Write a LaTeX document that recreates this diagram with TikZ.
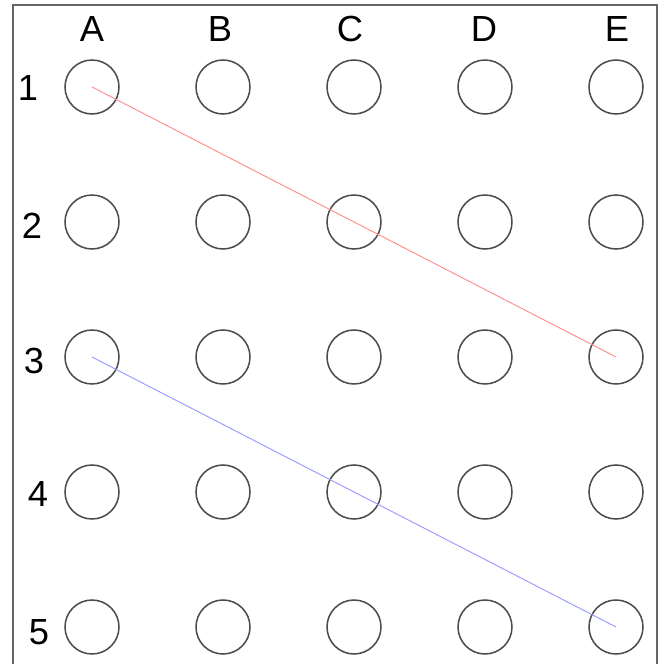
\documentclass[tikz,border=0pt]{standalone}
\usepackage{fontspec}
\setmainfont{Liberation Sans}
\usepackage{tikz}
\usetikzlibrary{positioning}
\tikzset{
    % Grid holes
    hole/.style={
        draw=black!70,
        circle,
        line width=1.3pt,
        inner sep=0pt,
        minimum size=1.62cm
    },
    % Column and row labels
    gridlabel/.style={
        font=\fontsize{31}{36}\selectfont,
        inner sep=0pt
    },
    % Outer frame
    frameline/.style={
        draw=black!60,
        line width=1.2pt
    },
    % Connecting lines
    redline/.style={
        draw=red!45,
        line width=0.8pt
    },
    blueline/.style={
        draw=blue!40,
        line width=0.8pt
    }
}

\begin{document}
\begin{tikzpicture}

\useasboundingbox (0,0) rectangle (19.89,19.92);
\clip (0,0) rectangle (19.89,19.92);

% ==================== FRAME ====================
\draw[frameline] (0.39,-0.3) -- (0.39,19.77) -- (19.71,19.77) -- (19.71,-0.3);

% ==================== COLUMN LABELS ====================
\node[gridlabel] (colA) at (2.76, 19.05) {A};
\node[gridlabel] (colB) at (6.60, 19.05) {B};
\node[gridlabel] (colC) at (10.50, 19.05) {C};
\node[gridlabel] (colD) at (14.52, 19.05) {D};
\node[gridlabel] (colE) at (18.51, 19.05) {E};

% ==================== ROW LABELS ====================
\node[gridlabel] (row1) at (0.84, 17.28) {1};
\node[gridlabel] (row2) at (0.96, 13.14) {2};
\node[gridlabel] (row3) at (1.02, 9.09) {3};
\node[gridlabel] (row4) at (1.14, 5.10) {4};
\node[gridlabel] (row5) at (1.17, 0.96) {5};

% ==================== HOLES ====================
% Row 1
\node[hole] (A1) at (2.76, 17.31) {};
\node[hole] (B1) at (6.69, 17.31) {};
\node[hole] (C1) at (10.62, 17.31) {};
\node[hole] (D1) at (14.55, 17.31) {};
\node[hole] (E1) at (18.48, 17.31) {};
% Row 2
\node[hole] (A2) at (2.76, 13.26) {};
\node[hole] (B2) at (6.69, 13.26) {};
\node[hole] (C2) at (10.62, 13.26) {};
\node[hole] (D2) at (14.55, 13.26) {};
\node[hole] (E2) at (18.48, 13.26) {};
% Row 3
\node[hole] (A3) at (2.76, 9.21) {};
\node[hole] (B3) at (6.69, 9.21) {};
\node[hole] (C3) at (10.62, 9.21) {};
\node[hole] (D3) at (14.55, 9.21) {};
\node[hole] (E3) at (18.48, 9.21) {};
% Row 4
\node[hole] (A4) at (2.76, 5.16) {};
\node[hole] (B4) at (6.69, 5.16) {};
\node[hole] (C4) at (10.62, 5.16) {};
\node[hole] (D4) at (14.55, 5.16) {};
\node[hole] (E4) at (18.48, 5.16) {};
% Row 5
\node[hole] (A5) at (2.76, 1.11) {};
\node[hole] (B5) at (6.69, 1.11) {};
\node[hole] (C5) at (10.62, 1.11) {};
\node[hole] (D5) at (14.55, 1.11) {};
\node[hole] (E5) at (18.48, 1.11) {};

% ==================== LINES ====================
\draw[redline] (A1.center) -- (E3.center);
\draw[blueline] (A3.center) -- (E5.center);

\end{tikzpicture}
\end{document}
